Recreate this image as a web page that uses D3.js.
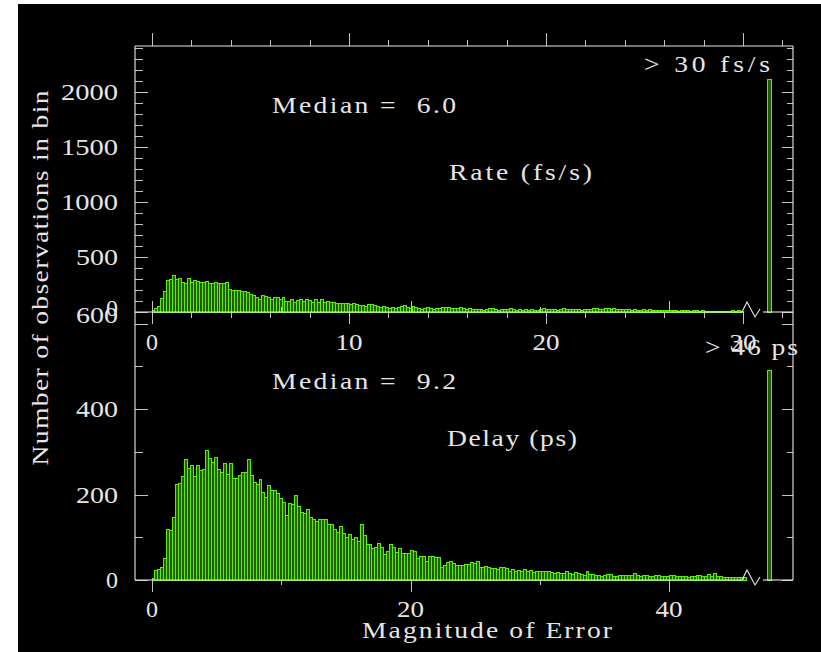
<!DOCTYPE html>
<html>
<head>
<meta charset="utf-8">
<script src="https://cdn.jsdelivr.net/npm/d3@7"></script>
<style>
  html, body { margin: 0; padding: 0; background: #ffffff; }
  svg { display: block; }
  text { font-family: "Liberation Serif", "DejaVu Serif", serif; fill: #e6e6e6; white-space: pre; }
</style>
</head>
<body>
<svg id="chart" width="821" height="652"></svg>
<script>
// ---------------- DATA ----------------
// Rate panel: 200 bins of 0.15 fs/s covering 0 - 30 fs/s
const rateBinWidth = 0.15;
const rateCounts = [
  15,36,51,127,182,288,294,333,300,303, 264,255,303,270,285,279,264,270,273,255,
  255,264,260,262,258,265,209,200,197,197, 188,182,173,160,148,136,112,152,142,130,
  118,136,136,112,136,97,97,112,88,106, 112,97,118,103,88,112,88,112,82,91,
  88,82,76,78,76,76,76,67,73,67, 61,61,51,64,64,58,51,45,51,42,
  36,42,36,42,51,58,45,36,51,42, 36,27,30,42,36,27,36,30,42,42,
  38,30,36,33,40,36,27,30,27,21, 24,21,18,21,36,33,21,18,21,24,
  27,30,21,18,21,15,21,18,21,12, 15,27,30,27,24,27,21,18,21,36,
  24,21,27,24,21,18,27,24,21,30, 36,27,24,30,36,27,30,27,24,21,
  24,21,18,21,18,15,21,18,21,15, 15,12,15,18,12,15,12,12,9,12,
  15,12,9,12,12,9,12,9,6,9, 6,6,9,6,6,9,12,9,12,9
];
const rateOverflow = 2110;          // observations > 30 fs/s
const rateMedian = 6.0;
const rateTitle = "Rate (fs/s)";
const rateOverflowLabel = "> 30 fs/s";
const rateXTicks = [0, 10, 20, 30];
const rateYTicks = [0, 500, 1000, 1500, 2000];

// Delay panel: 200 bins of 0.23 ps covering 0 - 46 ps
const delayBinWidth = 0.23;
const delayCounts = [
  3,23,25,29,51,119,115,146,224,225, 241,281,261,267,241,267,257,259,302,285,
  276,286,259,251,272,247,272,238,238,245, 251,251,281,245,228,224,236,204,194,222,
  210,210,202,191,181,151,179,177,198,173, 159,155,165,146,142,138,142,142,142,130,
  130,119,112,124,109,99,107,95,99,91, 130,105,82,82,74,77,85,77,60,66,
  82,77,64,74,62,62,62,68,66,51, 54,55,43,54,54,52,52,30,34,41,
  44,38,35,35,33,37,37,41,38,43, 29,30,31,29,27,28,25,30,29,27,
  21,25,20,22,21,25,19,23,17,21, 20,20,21,20,17,15,17,16,15,20,
  16,13,17,15,14,11,20,12,12,11, 11,9,10,12,13,9,9,10,11,11,
  10,10,15,10,9,10,10,9,9,10, 10,9,9,8,10,10,9,9,8,8,
  7,9,9,11,10,8,8,12,9,15, 8,8,7,7,7,7,7,6,7,6
];
const delayOverflow = 490;          // observations > 46 ps
const delayMedian = 9.2;
const delayTitle = "Delay (ps)";
const delayOverflowLabel = "> 46 ps";
const delayXTicks = [0, 20, 40];
const delayYTicks = [0, 200, 400, 600];

const xTitle = "Magnitude of Error";
const yTitle = "Number of observations in bin";

// ---------------- LAYOUT ----------------
const svg = d3.select("#chart");
const W = 821, H = 652;
const frameL = 135, frameR = 793, frameT = 46, midY = 312, frameB = 580;
const breakX0 = 742, breakX1 = 763;
const ovX0 = 767, ovX1 = 771;

const fg = "#e8e8e8", tickCol = "#c4c4c4";
const barStroke = "#5cf000", barFill = "#1f5e00";
const glyphScale = 1.15;

svg.append("rect").attr("x", 18).attr("y", 4).attr("width", W - 18).attr("height", H - 4).attr("fill", "#000");

// scales
const xRate = d3.scaleLinear().domain([0, 30]).range([152, 743]);
const yRate = d3.scaleLinear().domain([0, 2000]).range([midY, 92]);
const xDelay = d3.scaleLinear().domain([0, 40]).range([152, 669]);
const yDelay = d3.scaleLinear().domain([0, 600]).range([frameB, 323.5]);

// text widened a little, rest of the width taken up as spacing
function wordText(g, str, x, y, len, rotate) {
  const tr = `translate(${x},${y})` + (rotate ? " rotate(-90)" : "") + ` scale(${glyphScale},1)`;
  const t = g.append("text").attr("transform", tr).attr("font-size", 24)
    .attr("textLength", len / glyphScale).attr("lengthAdjust", "spacing").text(str);
  if (rotate) t.attr("text-anchor", "middle");
  return t;
}
function numText(g, str, x, y, len) {
  const t = g.append("text").attr("x", x).attr("y", y).attr("font-size", 24).text(str);
  t.attr("textLength", len).attr("lengthAdjust", "spacingAndGlyphs");
  return t;
}
function numWidth(s) { return s.length === 1 ? 12 : s.length * 15 - 3; }

// ---------------- HISTOGRAMS ----------------
function drawHist(counts, bw, xs, ys, base, overflow) {
  const g = svg.append("g").attr("shape-rendering", "crispEdges");
  g.selectAll("rect.bin").data(counts).enter().append("rect")
    .attr("class", "bin")
    .attr("x", (d, i) => xs(i * bw))
    .attr("width", xs(bw) - xs(0))
    .attr("y", d => ys(d))
    .attr("height", d => base - ys(d))
    .attr("fill", barFill).attr("stroke", barStroke).attr("stroke-width", 1);
  g.append("rect")
    .attr("x", ovX0).attr("width", ovX1 - ovX0)
    .attr("y", ys(overflow)).attr("height", base - ys(overflow))
    .attr("fill", barFill).attr("stroke", barStroke).attr("stroke-width", 1);
}
drawHist(rateCounts, rateBinWidth, xRate, yRate, midY, rateOverflow);
drawHist(delayCounts, delayBinWidth, xDelay, yDelay, frameB, delayOverflow);

// ---------------- AXES / TICKS ----------------
function tickAxis(axisFn, scale, values, size, tx, ty) {
  const a = axisFn(scale).tickValues(values).tickSize(size).tickFormat("");
  const g = svg.append("g").attr("transform", `translate(${tx},${ty})`).call(a);
  g.select(".domain").remove();
  g.selectAll("line").attr("stroke", tickCol).attr("shape-rendering", "crispEdges");
  return g;
}
const range = (a, b, s) => d3.range(a, b + s / 2, s);

const rMajor = rateXTicks, rMinor = range(0, 32, 2).filter(v => v % 10 !== 0);
tickAxis(d3.axisTop, xRate, rMajor, 13, 0, frameT);
tickAxis(d3.axisTop, xRate, rMinor, 6, 0, frameT);
tickAxis(d3.axisBottom, xRate, rMajor, 12, 0, midY);
tickAxis(d3.axisBottom, xRate, rMinor, 6, 0, midY);
const ryMajor = range(0, 2000, 500), ryMinor = range(100, 2400, 100).filter(v => v % 500 !== 0);
tickAxis(d3.axisRight, yRate, ryMajor, 13, frameL, 0);
tickAxis(d3.axisRight, yRate, ryMinor, 8, frameL, 0);
tickAxis(d3.axisLeft, yRate, ryMajor, 11, frameR, 0);
tickAxis(d3.axisLeft, yRate, ryMinor, 6, frameR, 0);

const dMajor = delayXTicks, dMinor = [10, 30];
tickAxis(d3.axisTop, xDelay, dMajor, 11, 0, midY);
tickAxis(d3.axisTop, xDelay, dMinor, 5, 0, midY);
tickAxis(d3.axisBottom, xDelay, dMajor, 12, 0, frameB);
tickAxis(d3.axisBottom, xDelay, dMinor, 5, 0, frameB);
const dyMajor = delayYTicks, dyMinor = [100, 300, 500];
tickAxis(d3.axisRight, yDelay, dyMajor, 13, frameL, 0);
tickAxis(d3.axisRight, yDelay, dyMinor, 8, frameL, 0);
tickAxis(d3.axisLeft, yDelay, dyMajor, 11, frameR, 0);
tickAxis(d3.axisLeft, yDelay, dyMinor, 6, frameR, 0);

// ---------------- FRAME ----------------
const fr = svg.append("g").attr("stroke", fg).attr("stroke-width", 1.1).attr("fill", "none");
fr.append("line").attr("x1", frameL).attr("x2", frameL).attr("y1", frameT).attr("y2", frameB);
fr.append("line").attr("x1", frameR).attr("x2", frameR).attr("y1", frameT).attr("y2", frameB);
fr.append("line").attr("x1", frameL).attr("x2", frameR).attr("y1", frameT).attr("y2", frameT);
function brokenAxis(y) {
  fr.append("path").attr("d",
    `M${frameL},${y}H${breakX0}L${breakX0 + 5},${y - 10}L${breakX0 + 13},${y + 5}L${breakX0 + 18},${y - 3}`);
  fr.append("line").attr("x1", breakX1).attr("x2", frameR).attr("y1", y).attr("y2", y);
}
brokenAxis(midY);
brokenAxis(frameB);

// ---------------- TEXT ----------------
const tg = svg.append("g");
rateXTicks.forEach(v => {
  const s = String(v), w = numWidth(s);
  numText(tg, s, xRate(v) - w / 2, 350, w);
});
delayXTicks.forEach(v => {
  const s = String(v), w = numWidth(s);
  numText(tg, s, xDelay(v) - w / 2, 617, w);
});
rateYTicks.forEach(v => {
  const s = String(v), w = numWidth(s);
  const cy = v === 0 ? yRate(v) - 4 : yRate(v);
  numText(tg, s, 118 - w, cy + 8, w);
});
delayYTicks.forEach(v => {
  const s = String(v), w = numWidth(s);
  const cy = v === 600 ? yDelay(v) - 9 : yDelay(v);
  numText(tg, s, 118 - w, cy + 8, w);
});

wordText(tg, "Median =  " + rateMedian.toFixed(1), 272, 113, 184);
wordText(tg, rateTitle, 449, 180, 143);
wordText(tg, rateOverflowLabel, 644, 72, 126);
wordText(tg, "Median =  " + delayMedian.toFixed(1), 272, 389, 184);
wordText(tg, delayTitle, 447, 446, 130);
wordText(tg, delayOverflowLabel, 705, 355, 93);
wordText(tg, xTitle, 362, 638, 250);
wordText(tg, yTitle, 48, 278, 375, true);
</script>
</body>
</html>
